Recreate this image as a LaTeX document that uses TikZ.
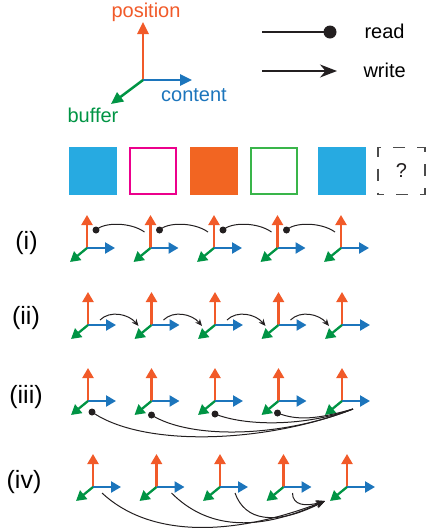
\documentclass[tikz,border=0pt]{standalone}
\usepackage{fontspec}
\setmainfont{Liberation Sans}
\usetikzlibrary{arrows.meta}
\usetikzlibrary{positioning}
\usetikzlibrary{calc}

\definecolor{posorange}{HTML}{F15A29}
\definecolor{contblue}{HTML}{1C75BC}
\definecolor{bufgreen}{HTML}{009444}
\definecolor{sqcyan}{HTML}{27AAE1}
\definecolor{sqmagenta}{HTML}{EC008C}
\definecolor{sqorange}{HTML}{F26522}
\definecolor{sqgreen}{HTML}{39B54A}
\definecolor{inkgray}{HTML}{231F20}

\tikzset{
  posaxis/.style={draw=posorange, line width=2.3pt, -{Triangle[length=10pt,width=11pt]}},
  contaxis/.style={draw=contblue, line width=2.3pt, -{Triangle[length=10pt,width=11pt]}},
  bufaxis/.style={draw=bufgreen, line width=2.3pt, -{Triangle[length=10pt,width=11pt]}},
  readdot/.style={circle, fill=inkgray, inner sep=0pt, minimum size=7pt},
  readline/.style={line width=1pt, inkgray},
  writeline/.style={line width=1pt, inkgray, -{Stealth[length=7pt,width=6pt]}},
  cell/.style={minimum size=46pt, inner sep=0pt, line width=2pt},
  rowlabel/.style={font=\fontsize{25}{30}\selectfont}
}

% one set of axes at a given point
\newcommand{\frameaxes}[3]{%
  \coordinate (#1) at (#2,#3);
  \draw[posaxis] (#1) -- ++(0,-33);
  \draw[contaxis] (#1) -- ++(28,0);
  \draw[bufaxis] (#1) -- ++(-17,14);
}

\begin{document}
\begin{tikzpicture}[x=1pt, y=-1pt, font=\fontsize{20}{24}\selectfont]
  \useasboundingbox (0,0) rectangle (428,531);

	% legend
	\coordinate (o) at (143,80);
	\draw[posaxis, line width=2.5pt, -{Triangle[length=12pt,width=11pt]}] (o) -- (143,22);
	\draw[contaxis, line width=2.5pt, -{Triangle[length=12pt,width=11pt]}] (o) -- (192,80);
	\draw[bufaxis, line width=2.5pt, -{Triangle[length=12pt,width=11pt]}] (o) -- (111,104);
	\node[anchor=base, text=posorange] (poslab) at (146,17) {position};
	\node[anchor=base, text=contblue] (contlab) at (194,101.5) {content};
	\node[anchor=base, text=bufgreen] (buflab) at (93,122.5) {buffer};

	\coordinate (rd0) at (262,32);
	\node[readdot, minimum size=13pt] (rd1) at (330,32) {};
	\draw[readline, line width=1.3pt] (rd0) -- (rd1.center);
	\node[anchor=base west] (rdlab) at (361,38.5) {read};
	\coordinate (wr0) at (262,71);
	\coordinate (wr1) at (337,71);
	\draw[readline, line width=1.3pt, -{Stealth[length=17pt,width=13pt]}] (wr0) -- (wr1);
	\node[anchor=base west] (wrlab) at (360,77.5) {write};

	% squares
	\foreach \x/\col/\name in {92.5/sqcyan/sq1, 213.5/sqorange/sq3, 341.5/sqcyan/sq5}
		\node[cell, draw=\col, fill=\col] (\name) at (\x,171) {};
	\foreach \x/\col/\name in {152.5/sqmagenta/sq2, 273.5/sqgreen/sq4}
		\node[cell, draw=\col] (\name) at (\x,171) {};
	\node[cell, draw=black!70, line width=1.5pt, dash pattern=on 12pt off 12pt, dash phase=6pt,
	      minimum size=47pt, text=inkgray] (sq6) at (401.5,171) {?};

	% rows of axes
	\foreach \row/\y/\sh in {a/248/0, b/325/1, c/401/1, d/487/6}{
		\foreach \k in {1,...,5}{
			\pgfmathsetmacro{\xx}{87+63.5*(\k-1)+\sh}
			\frameaxes{\row\k}{\xx}{\y}
		}
	}
	\node[rowlabel] (lab1) at (26.5,243) {(i)};
	\node[rowlabel] (lab2) at (26,318) {(ii)};
	\node[rowlabel] (lab3) at (26,397) {(iii)};
	\node[rowlabel] (lab4) at (24,482) {(iv)};

	% (i)
	\foreach \k/\n in {1/2, 2/3, 3/4, 4/5}{
		\node[readdot] (ad\k) at ($(a\k)+(9,-18)$) {};
		\coordinate (ae\n) at ($(a\n)+(-6,-16)$);
		\draw[readline] (ad\k.center) .. controls +(8,-8) and +(-14,-10) .. (ae\n);
	}

	% (ii)
	\foreach \k/\n in {1/2, 2/3, 3/4, 4/5}{
		\coordinate (bs\k) at ($(b\k)+(12,-5)$);
		\coordinate (be\n) at ($(b\n)+(-13,1)$);
		\draw[writeline] (bs\k) .. controls +(10,-10) and +(-10,-12) .. (be\n);
	}

	% (iii)
	\coordinate (cend) at ($(c5)+(11,8)$);
	\foreach \k/\dx/\dy/\cx/\cy/\ex/\ey in {1/4/11/50/35/-90/35, 2/0/14/40/25/-70/28, 3/0/13/30/12/-50/18, 4/-1/12/20/8/-35/10}{
		\node[readdot] (cd\k) at ($(c\k)+(\dx,\dy)$) {};
		\draw[readline] (cd\k.center) .. controls +(\cx,\cy) and +(\ex,\ey) .. (cend);
	}

	% (iv)
	\coordinate (dend) at ($(d5)+(-22,14)$);
	\foreach \k/\dx/\cx/\cy/\ex/\ey in {1/9/45/42/-100/38, 2/15/35/35/-70/32, 3/15/10/28/-50/25, 4/9/0/12/-20/6}{
		\coordinate (ds\k) at ($(d\k)+(\dx,6)$);
		\draw[writeline, -{Stealth[length=9pt,width=7pt]}] (ds\k) .. controls +(\cx,\cy) and +(\ex,\ey) .. (dend);
	}

\end{tikzpicture}
\end{document}
